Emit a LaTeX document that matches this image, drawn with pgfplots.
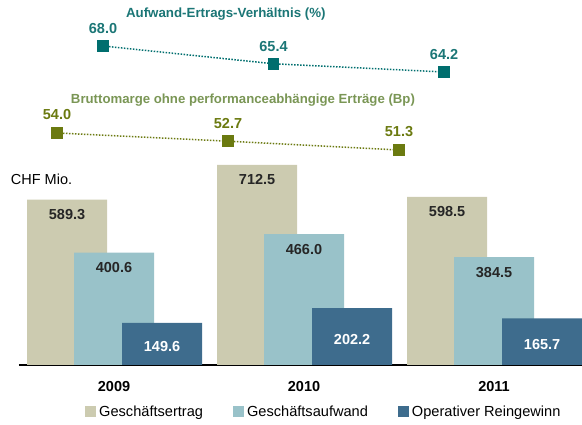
\documentclass[border=0pt]{standalone}
\usepackage{pgfplots}
\pgfplotsset{compat=1.18}
\usepackage{fontspec}
\setmainfont{Liberation Sans}

\definecolor{ertrag}{RGB}{204,203,176}
\definecolor{aufwand}{RGB}{153,194,201}
\definecolor{gewinn}{RGB}{62,108,141}
\definecolor{teal1}{RGB}{0,110,110}
\definecolor{tealtxt}{RGB}{27,118,118}
\definecolor{olive1}{RGB}{107,122,16}
\definecolor{olivetxt}{RGB}{122,150,85}
\definecolor{labeldark}{RGB}{38,38,38}

\newcommand{\num}[1]{\pgfmathprintnumber[fixed,fixed zerofill,precision=1,assume math mode=true]{#1}}
\pgfplotsset{every axis title shift=0pt}

\begin{document}
\begin{tikzpicture}[x=1pt,y=1pt]
\useasboundingbox (0,0) rectangle (582,425);

% bars (CHF Mio.)
\begin{axis}[
    at={(19pt,60pt)}, anchor=south west,
    scale only axis, width=563pt, height=205pt,
    xmin=-0.5, xmax=2.463, ymin=0, ymax=730,
    axis x line*=bottom, axis y line=none,
    x axis line style={black, line width=1.2pt, -},
    xtick={0,1,2}, xticklabels={2009,2010,2011},
    major tick length=0pt,
    xticklabel style={font=\fontsize{14.5}{16}\selectfont\bfseries, text=black, yshift=-13pt},
    ybar, bar width=0.421,
    title={CHF Mio.},
    title style={at={(0.04,0.907)}, anchor=center, font=\fontsize{14.5}{16}\selectfont, text=black},
    nodes near coords={\num{\pgfplotspointmeta}},
    every node near coord/.append style={font=\fontsize{14.5}{16}\selectfont\bfseries, text=labeldark, anchor=center, yshift=-15pt},
    legend style={at={(63pt,-47pt)}, anchor=west, draw=none, fill=none,
        font=\fontsize{14.6}{16}\selectfont, legend columns=-1,
        /tikz/every odd column/.append style={column sep=1pt},
        /tikz/every even column/.append style={column sep=28pt}},
    legend image code/.code={\fill[#1,draw=none] (0pt,-5.5pt) rectangle (11pt,5.5pt);},
]
\addplot[fill=ertrag, draw=none, bar shift=-0.247] coordinates {(0,589.3) (1,712.5) (2,598.5)};
\addlegendentry{Geschäftsertrag}
\addplot[fill=aufwand, draw=none, bar shift=0] coordinates {(0,400.6) (1,466.0) (2,384.5)};
\addlegendentry{Geschäftsaufwand}
\addplot[fill=gewinn, draw=none, bar shift=0.253,
    visualization depends on=rawy \as \rawy,
    every node near coord/.append style={text=white, yshift=12pt-0.1404*\rawy}]
    coordinates {(0,149.6) (1,202.2) (2,165.7)};
\addlegendentry{Operativer Reingewinn}
\end{axis}

% Aufwand-Ertrags-Verhältnis
\begin{axis}[
    at={(0pt,325pt)}, anchor=south west,
    scale only axis, width=582pt, height=100pt,
    xmin=-0.604, xmax=2.809, ymin=60.105, ymax=74.725,
    axis lines=none, clip=false,
    title={Aufwand-Ertrags-Verhältnis (\%)},
    title style={at={(0.388,0.86)}, anchor=center, font=\fontsize{13.3}{15}\selectfont\bfseries, text=tealtxt},
    nodes near coords={\num{\pgfplotspointmeta}},
    every node near coord/.append style={font=\fontsize{14.5}{16}\selectfont\bfseries, text=tealtxt, anchor=center, yshift=17pt},
]
\addplot[teal1, line width=1.5pt, dash pattern=on 1.5pt off 1.5pt,
    mark=square*, mark size=5pt, mark options={solid, fill=teal1, draw=teal1}]
    coordinates {(0,68.0) (1,65.4) (2,64.2)};
\end{axis}

% Bruttomarge
\begin{axis}[
    at={(0pt,245pt)}, anchor=south west,
    scale only axis, width=582pt, height=100pt,
    xmin=-0.3333, xmax=3.070, ymin=46.54, ymax=62.41,
    axis lines=none, clip=false,
    title={Bruttomarge ohne performanceabhängige Erträge (Bp)},
    title style={at={(0.4175,0.8)}, anchor=center, font=\fontsize{13.2}{15}\selectfont\bfseries, text=olivetxt},
    nodes near coords={\num{\pgfplotspointmeta}},
    every node near coord/.append style={font=\fontsize{14.5}{16}\selectfont\bfseries, text=olive1, anchor=center, yshift=18pt},
]
\addplot[olive1, line width=1.5pt, dash pattern=on 1.5pt off 1.5pt,
    mark=square*, mark size=5pt, mark options={solid, fill=olive1, draw=olive1}]
    coordinates {(0,54.0) (1,52.7) (2,51.3)};
\end{axis}
\end{tikzpicture}
\end{document}
